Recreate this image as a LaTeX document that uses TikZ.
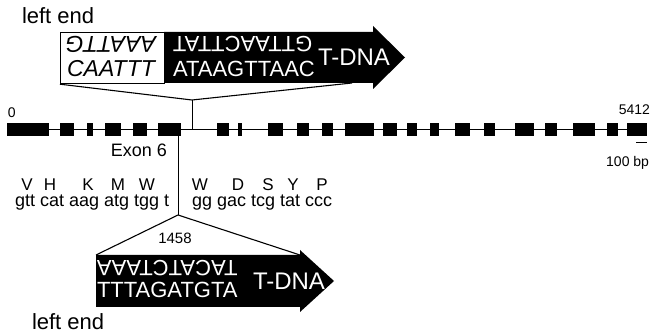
\documentclass[tikz,border=0pt]{standalone}
\usepackage{fontspec}
\setmainfont{Liberation Sans}
\begin{document}
\begin{tikzpicture}[x=1pt,y=-1pt,
  txt/.style={inner sep=0pt, outer sep=0pt},
  big/.style={txt, font=\fontsize{22}{22}\selectfont},
  tdna/.style={txt, font=\fontsize{24}{24}\selectfont, text=white},
  seqw/.style={big, text=white},
  seqi/.style={txt, font=\fontsize{23}{23}\selectfont\itshape},
  mid/.style={txt, font=\fontsize{18}{18}\selectfont},
  aacid/.style={txt, font=\fontsize{17}{17}\selectfont},
  small/.style={txt, font=\fontsize{14}{14}\selectfont},
  exon/.style={fill=black},
  link/.style={line width=1.1pt},
  gene/.style={line width=0.9pt}
]
\useasboundingbox (0,0) rectangle (658,336);

% ---- gene model: intron line and exons ----
\coordinate (g0) at (7,129.5);
\coordinate (g1) at (647,129.5);
\draw[gene] (g0) -- (g1);
\foreach \a/\b in {7/49,60/74,87/93,105/121,133/147,158/181,217/229,238/242,
  268/283,297/309,322/333,345/374,383/397,407/417,430/439,455/470,484/495,
  515/534,545/557,573/595,607/618,627/647}
  \fill[exon] (\a,123) rectangle (\b,136);

\node[small, anchor=base west] (start) at (8,118) {0};
\node[small, anchor=base east] (stop) at (650,115) {5412};
\coordinate (sb0) at (636,142);
\coordinate (sb1) at (647,142);
\draw[gene] (sb0) -- (sb1);
\node[small, anchor=base east] (scale) at (649,167) {100 bp};

% ---- upper insertion: left end of T-DNA ----
\node[big, anchor=base west] (lend1) at (22,24) {left end};
\fill (164,32) -- (373,32) -- (373,26) -- (405,57.5) -- (373,89) -- (373,83)
  -- (164,83) -- cycle;
\node[draw, line width=1.2pt, fill=white, anchor=north west,
  minimum width=104pt, minimum height=51pt, inner sep=0pt] (wbox) at (60,32) {};
\node[seqi, rotate=180] (w1) at (111,44) {AAATTG};
\node[seqi, anchor=base] (w2) at (111,77) {CAATTT};
\node[seqw, rotate=180, anchor=east] (b1) at (173,44) {GTTAACTTAT};
\node[seqw, anchor=base west] (b2) at (173,77) {ATAAGTTAAC};
\node[tdna, anchor=west] (t1) at (318,57.5) {T-DNA};

\coordinate (topj) at (192,100);
\coordinate (topr) at (352,83);
\coordinate (topg) at (192,129.5);
\draw[link] (wbox.south west) -- (topj) -- (topr);
\draw[gene] (topj) -- (topg);

% ---- exon 6 and its reading frame ----
\node[mid, anchor=base east] (ex6) at (167,157) {Exon 6};
\coordinate (e6) at (178,136);
\coordinate (lowj) at (178,215);
\draw[gene] (e6) -- (lowj);

\foreach \x/\aa in {27/V,50/H,88/K,118/M,147/W,200/W,238/D,268/S,293/Y,322/P}
  \node[aacid, anchor=base] at (\x,191) {\aa};
\node[mid, anchor=base west] (cod1) at (15,207) {gtt cat aag atg tgg t};
\node[mid, anchor=base west] (cod2) at (192,207) {gg gac tcg tat ccc};

% ---- lower insertion ----
\node[txt, font=\fontsize{15}{15}\selectfont] (pos) at (175,238) {1458};
\fill (96,255) -- (300,255) -- (300,250) -- (334,281) -- (300,312) -- (300,307)
  -- (96,307) -- cycle;
\coordinate (lowl) at (96,255);
\coordinate (lowr) at (300,255);
\draw[link] (lowl) -- (lowj) -- (lowr);
\node[seqw, rotate=180, anchor=east] (c1) at (97,268) {TACATCTAAA};
\node[seqw, anchor=base west] (c2) at (97,298) {TTTAGATGTA};
\node[tdna, anchor=west] (t2) at (253,281) {T-DNA};
\node[big, anchor=base west] (lend2) at (32,330) {left end};
\end{tikzpicture}
\end{document}
